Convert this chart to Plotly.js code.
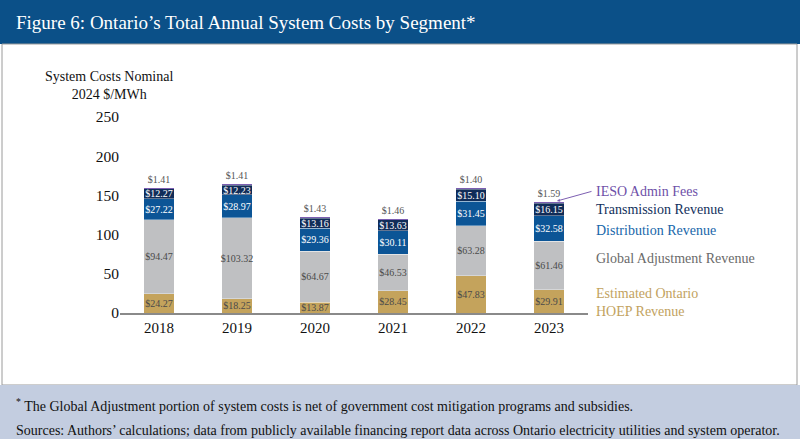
<!DOCTYPE html>
<html>
<head>
<meta charset="utf-8">
<script src="https://cdn.plot.ly/plotly-3.0.1.min.js"></script>
<style>
  html, body { margin: 0; padding: 0; background: #fff; }
  #chart { width: 800px; height: 439px; }
</style>
</head>
<body>
<div id="chart"></div>
<script>
// years on the x axis
const years = ['2018', '2019', '2020', '2021', '2022', '2023'];

// $/MWh by segment, bottom to top of each stack
const hoep = [24.27, 18.25, 13.87, 28.45, 47.83, 29.91];
const globalAdj = [94.47, 103.32, 64.67, 46.53, 63.28, 61.46];
const distribution = [27.22, 28.97, 29.36, 30.11, 31.45, 32.58];
const transmission = [12.27, 12.23, 13.16, 13.63, 15.10, 16.15];
const iesoFees = [1.41, 1.41, 1.43, 1.46, 1.40, 1.59];

const yTicks = [0, 50, 100, 150, 200, 250];

const serif = '"Liberation Serif", "Times New Roman", "DejaVu Serif", serif';

// plot area in pixels, used to place the frame pieces
const W = 800, H = 439;
const mL = 120, mR = 212, mT = 117, mB = 126;
const pw = W - mL - mR, ph = H - mT - mB;
function px(x) { return (x - mL) / pw; }
function py(y) { return (H - mB - y) / ph; }

function segment(name, vals, color, txtColor) {
    return {
        type: 'bar',
        name: name,
        x: years,
        y: vals,
        marker: { color: color, line: { color: 'rgba(255,255,255,0.7)', width: 0.5 } },
        text: vals.map(v => '$' + v.toFixed(2)),
        textposition: 'inside',
        insidetextanchor: 'middle',
        textangle: 0,
        constraintext: 'none',
        textfont: { family: serif, size: 10, color: txtColor },
        hoverinfo: 'x+y+name'
    };
}

const data = [
    segment('Estimated Ontario HOEP Revenue', hoep, '#C4A35C', '#4a4a4a'),
    segment('Global Adjustment Revenue', globalAdj, '#BFC0C2', '#4a4a4a'),
    segment('Distribution Revenue', distribution, '#0C5596', '#ffffff'),
    segment('Transmission Revenue', transmission, '#102C58', '#ffffff'),
    {
        type: 'bar',
        name: 'IESO Admin Fees',
        x: years,
        y: iesoFees,
        marker: { color: '#7D5FB2' },
        text: iesoFees.map(v => '$' + v.toFixed(2)),
        textposition: 'outside',
        textangle: 0,
        constraintext: 'none',
        cliponaxis: false,
        textfont: { family: serif, size: 10, color: '#555555' }
    }
];

const legendText = [
    { t: 'IESO Admin Fees', y: 191, c: '#6E50A8' },
    { t: 'Transmission Revenue', y: 209, c: '#12305C' },
    { t: 'Distribution Revenue', y: 230, c: '#1766AA' },
    { t: 'Global Adjustment Revenue', y: 258, c: '#6a6a6a' },
    { t: 'Estimated Ontario', y: 293, c: '#C2A25E' },
    { t: 'HOEP Revenue', y: 311, c: '#C2A25E' }
];

const annotations = legendText.map(l => ({
    xref: 'paper', yref: 'paper', x: px(594), y: py(l.y),
    xanchor: 'left', yanchor: 'middle', showarrow: false,
    text: l.t, font: { family: serif, size: 14, color: l.c }
}));

// pointer from the IESO label to the 2023 bar
annotations.push({
    xref: 'paper', yref: 'paper', x: px(557), y: py(201),
    ax: 36, ay: -10, text: '', showarrow: true,
    arrowhead: 2, arrowsize: 0.6, arrowwidth: 1, arrowcolor: '#7D5FB2'
});

annotations.push({
    xref: 'paper', yref: 'paper', x: px(109), y: py(85),
    xanchor: 'center', yanchor: 'middle', showarrow: false,
    text: 'System Costs Nominal<br>2024 $/MWh',
    font: { family: serif, size: 14, color: '#111' }
});

annotations.push({
    xref: 'paper', yref: 'paper', x: px(14), y: py(22),
    xanchor: 'left', yanchor: 'middle', showarrow: false,
    text: 'Figure 6: Ontario’s Total Annual System Costs by Segment*',
    font: { family: serif, size: 19, color: '#ffffff' }
});

annotations.push({
    xref: 'paper', yref: 'paper', x: px(14), y: py(405),
    xanchor: 'left', yanchor: 'middle', showarrow: false,
    text: '<sup>*</sup> The Global Adjustment portion of system costs is net of government cost mitigation programs and subsidies.',
    font: { family: serif, size: 14, color: '#111' }
});

annotations.push({
    xref: 'paper', yref: 'paper', x: px(14), y: py(430),
    xanchor: 'left', yanchor: 'middle', showarrow: false,
    text: 'Sources: Authors’ calculations; data from publicly available financing report data across Ontario electricity utilities and system operator.',
    font: { family: serif, size: 14, color: '#111' }
});

const shapes = [
    { type: 'rect', xref: 'paper', yref: 'paper', layer: 'below',
      x0: px(0), x1: px(800), y0: py(0), y1: py(44),
      fillcolor: '#0B5088', line: { width: 0 } },
    { type: 'rect', xref: 'paper', yref: 'paper', layer: 'below',
      x0: px(2), x1: px(797), y0: py(44), y1: py(385),
      fillcolor: '#ffffff', line: { color: '#9a9a9a', width: 1 } },
    { type: 'rect', xref: 'paper', yref: 'paper', layer: 'below',
      x0: px(0), x1: px(800), y0: py(385), y1: py(439),
      fillcolor: '#C3CDE0', line: { width: 0 } }
];

const layout = {
    width: W,
    height: H,
    margin: { l: mL, r: mR, t: mT, b: mB, pad: 0 },
    barmode: 'stack',
    bargap: 0.61,
    showlegend: false,
    paper_bgcolor: '#ffffff',
    plot_bgcolor: 'rgba(0,0,0,0)',
    font: { family: serif, color: '#111' },
    xaxis: {
        type: 'category',
        range: [-0.5, 5.5],
        showline: true,
        linecolor: '#8a8a8a',
        linewidth: 2,
        ticks: '',
        showgrid: false,
        tickfont: { family: serif, size: 15, color: '#111' },
        fixedrange: true
    },
    yaxis: {
        range: [0, 250],
        tickvals: yTicks,
        ticks: '',
        showgrid: false,
        zeroline: false,
        showline: false,
        tickfont: { family: serif, size: 15.5, color: '#111' },
        fixedrange: true
    },
    shapes: shapes,
    annotations: annotations
};

Plotly.newPlot('chart', data, layout, { displayModeBar: false, staticPlot: true });
</script>
</body>
</html>
